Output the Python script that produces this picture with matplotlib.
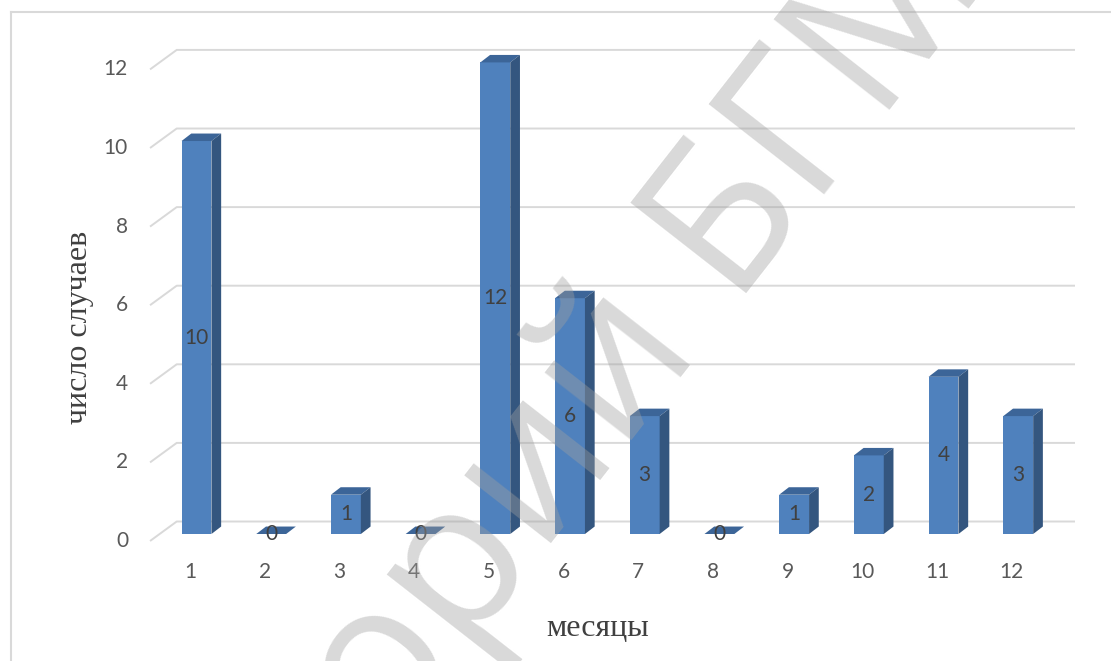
import matplotlib
matplotlib.use('Agg')
import matplotlib.pyplot as plt
import numpy as np
from matplotlib.patches import Polygon
from matplotlib.lines import Line2D

# число случаев по месяцам
months = ['1', '2', '3', '4', '5', '6', '7', '8', '9', '10', '11', '12']
cases = [10, 0, 1, 0, 12, 6, 3, 0, 1, 2, 4, 3]
y_ticks = [0, 2, 4, 6, 8, 10, 12]

FRONT = '#4F81BD'
SIDE = '#34567F'
TOP = '#3C6598'
GRID = '#D9D9D9'
TICK_COLOR = '#595959'
LABEL_COLOR = '#404040'

W, H = 1111, 661
fig = plt.figure(figsize=(W / 100, H / 100), dpi=100)
ax = fig.add_axes([0, 0, 1, 1])
ax.set_xlim(-1.6305, 13.242)
ax.set_ylim(-3.2316, 13.588)
ax.axis('off')

# геометрия псевдо-3D (в единицах данных)
bw = 0.2             # половина ширины передней грани
ddx, ddy = 0.13, 0.19  # глубина столбика
front_dy = -0.178    # передний край пола
back_dy = 0.318      # задняя стенка
wall_front_x, wall_back_x, back_right_x = 0.378, 0.735, 12.76

num_font = ['Lato', 'DejaVu Sans']
serif_font = ['Liberation Serif', 'DejaVu Serif']

for v in y_ticks:
    ax.plot([wall_front_x, wall_back_x, back_right_x],
            [v + front_dy, v + back_dy, v + back_dy],
            color=GRID, lw=1.4, zorder=1, solid_capstyle='butt')
    ax.text(0.083, v + front_dy, str(v), ha='right', va='center',
            fontsize=15, color=TICK_COLOR, family=num_font)

x = np.arange(1, len(cases) + 1)
ax.bar(x, cases, width=2 * bw, color=FRONT, zorder=3, linewidth=0)

for xi, v, m in zip(x, cases, months):
    top = Polygon([(xi - bw, v), (xi + bw, v), (xi + bw + ddx, v + ddy),
                   (xi - bw + ddx, v + ddy)], closed=True, facecolor=TOP,
                  edgecolor='none', zorder=3)
    ax.add_patch(top)
    if v > 0:
        side = Polygon([(xi + bw, 0), (xi + bw + ddx, ddy),
                        (xi + bw + ddx, v + ddy), (xi + bw, v)], closed=True,
                       facecolor=SIDE, edgecolor='none', zorder=3)
        ax.add_patch(side)
    ax.text(xi, v / 2, str(v), ha='center', va='center', fontsize=15,
            color=LABEL_COLOR, family=num_font, zorder=4)
    ax.text(xi - 0.087, -0.967, m, ha='center', va='center', fontsize=15,
            color=TICK_COLOR, family=num_font)

fig.text(79 / W, 1 - 327 / H, 'число случаев', rotation=90, ha='center',
         va='center', fontsize=23, color=LABEL_COLOR, family=serif_font)
fig.text(598 / W, 1 - 628 / H, 'месяцы', ha='center', va='center',
         fontsize=23, color=LABEL_COLOR, family=serif_font)

# рамка области диаграммы
fig.add_artist(Line2D([11 / W, 1], [1 - 12 / H, 1 - 12 / H], color=GRID, lw=1.5))
fig.add_artist(Line2D([11 / W, 11 / W], [0, 1 - 12 / H], color=GRID, lw=1.5))

# водяной знак
fig.text(435 / W, 1 - 605 / H, 'Репозиторий БГМУ', rotation=52,
         rotation_mode='anchor', ha='center', va='center', fontsize=148,
         color='#A0A0A0', alpha=0.4, family=['Open Sans', 'DejaVu Sans'],
         zorder=10)

fig.savefig('out.png', dpi=100)
